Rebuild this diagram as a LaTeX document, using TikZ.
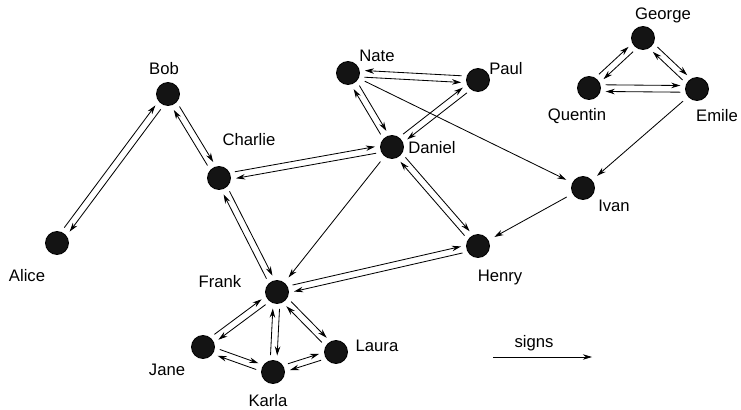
\documentclass[tikz,border=0pt]{standalone}
\usepackage{fontspec}
\setmainfont{Liberation Sans}
\usetikzlibrary{arrows.meta,calc}

\begin{document}
\begin{tikzpicture}[x=0.6pt,y=-0.6pt,
    person/.style={circle,draw=black,fill=black!92,line width=0.5pt,minimum size=13.8pt,inner sep=0pt},
    tag/.style={inner sep=0pt},
    sign/.style={-{Stealth[length=5.5pt,width=3.3pt]},line width=0.5pt},
    oneway/.style={sign,shorten >=4pt,shorten <=4pt},
    keepleft/.style={sign,shorten >=10pt,shorten <=10pt,
      to path={($(\tikztostart)!2pt!90:(\tikztotarget)$) -- ($(\tikztotarget)!2pt!-90:(\tikztostart)$)}},
    keepright/.style={sign,shorten >=10pt,shorten <=10pt,
      to path={($(\tikztostart)!2pt!-90:(\tikztotarget)$) -- ($(\tikztotarget)!2pt!90:(\tikztostart)$)}}]
  \useasboundingbox (0,0) rectangle (741,410);
  \draw
    (57,243) node[person] (alice){}
    (168,94) node[person] (bob){}
    (219,178) node[person] (charlie){}
    (392,147) node[person] (daniel){}
    (697,89) node[person] (emile){}
    (277,292) node[person] (frank){}
    (643,38) node[person] (george){}
    (478,246) node[person] (henry){}
    (583,188) node[person] (ivan){}
    (203,347) node[person] (jane){}
    (273,372) node[person] (karla){}
    (336,352) node[person] (laura){}
    (348,73) node[person] (nate){}
    (478,80) node[person] (paul){}
    (589,88) node[person] (quentin){};
  \draw
    (27,276) node[tag] (alicetag){Alice}
    (164,69) node[tag] (bobtag){Bob}
    (249,140) node[tag] (charlietag){Charlie}
    (432,148) node[tag] (danieltag){Daniel}
    (717,116) node[tag] (emiletag){Emile}
    (220,282) node[tag] (franktag){Frank}
    (663,15) node[tag] (georgetag){George}
    (500,277) node[tag] (henrytag){Henry}
    (614,206) node[tag] (ivantag){Ivan}
    (167,370) node[tag] (janetag){Jane}
    (268,401) node[tag] (karlatag){Karla}
    (377,346) node[tag] (lauratag){Laura}
    (377,56) node[tag] (natetag){Nate}
    (506,69) node[tag] (paultag){Paul}
    (577,116) node[tag] (quentintag){Quentin};
  % both ways
  \begin{scope}[keepleft]
    \draw (alice) to (bob);
    \draw (bob) to (alice);
    \draw (bob) to (charlie);
    \draw (charlie) to (bob);
    \draw (charlie) to (daniel);
    \draw (daniel) to (charlie);
    \draw (charlie) to (frank);
    \draw (frank) to (charlie);
    \draw (nate) to (daniel);
    \draw (daniel) to (nate);
    \draw (paul) to (daniel);
    \draw (daniel) to (paul);
    \draw (daniel) to (henry);
    \draw (henry) to (daniel);
    \draw (frank) to (henry);
    \draw (henry) to (frank);
    \draw (frank) to (jane);
    \draw (jane) to (frank);
    \draw (frank) to (karla);
    \draw (karla) to (frank);
    \draw (frank) to (laura);
    \draw (laura) to (frank);
    \draw (jane) to (karla);
    \draw (karla) to (jane);
    \draw (karla) to (laura);
    \draw (laura) to (karla);
    \draw (george) to (quentin);
    \draw (quentin) to (george);
    \draw (george) to (emile);
    \draw (emile) to (george);
    \draw (quentin) to (emile);
    \draw (emile) to (quentin);
  \end{scope}
  \begin{scope}[keepright]
    \draw (nate) to (paul);
    \draw (paul) to (nate);
  \end{scope}
  % one way
  \begin{scope}[oneway]
    \draw (nate) to (ivan);
    \draw (daniel) to (frank);
    \draw (emile) to (ivan);
    \draw (ivan) to (henry);
  \end{scope}
  % legend
  \coordinate (signfrom) at (493,357);
  \coordinate (signto) at (592,357);
  \draw[sign] (signfrom) -- (signto);
  \node[tag] (signstag) at (534,343) {signs};
\end{tikzpicture}
\end{document}
